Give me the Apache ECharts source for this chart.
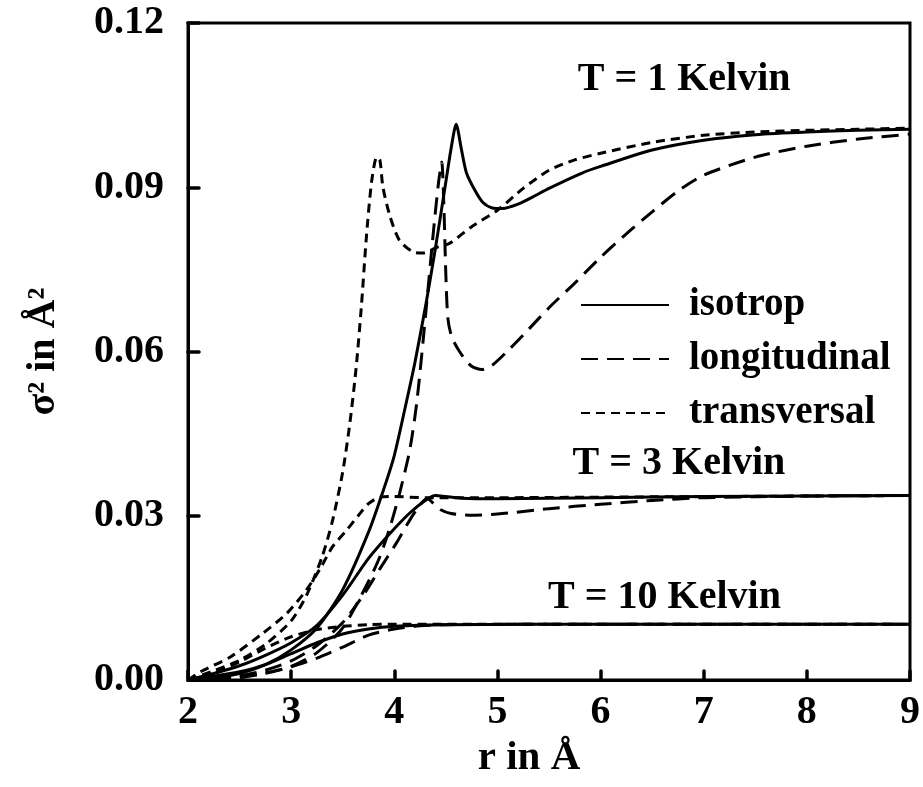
<!DOCTYPE html>
<html>
<head>
<meta charset="utf-8">
<script src="https://cdn.jsdelivr.net/npm/echarts@6/dist/echarts.min.js"></script>
<style>html,body{margin:0;padding:0;background:#fff}#c{width:923px;height:787px}</style>
</head>
<body>
<div id="c"></div>
<script>
// ---- data ([r in Å, sigma^2 in Å^2]) ----
const t1Iso = [[2.0,0],[2.25,0.0004],[2.5,0.0012],[2.75,0.0028],[3.0,0.0055],[3.25,0.0095],[3.5,0.0165],[3.75,0.027],[3.9,0.035],[4.0,0.041],[4.12,0.051],[4.2,0.058],[4.31,0.069],[4.4,0.079],[4.5,0.091],[4.55,0.097],[4.6,0.1015],[4.65,0.097],[4.7,0.0926],[4.78,0.0895],[4.86,0.0872],[4.95,0.0862],[5.05,0.0861],[5.2,0.0869],[5.34,0.0882],[5.5,0.0898],[5.82,0.0926],[6.0,0.0938],[6.5,0.0968],[7.0,0.0986],[7.5,0.0996],[8.0,0.1001],[8.5,0.1004],[9.0,0.1006]];
const t1Long = [[2.0,0],[2.25,0.0001],[2.5,0.0004],[2.75,0.0012],[3.0,0.0025],[3.25,0.005],[3.5,0.0095],[3.75,0.018],[3.86,0.0225],[3.96,0.028],[4.05,0.034],[4.15,0.042],[4.22,0.051],[4.3,0.066],[4.38,0.082],[4.43,0.091],[4.46,0.0946],[4.48,0.087],[4.5,0.074],[4.52,0.066],[4.56,0.0625],[4.65,0.0595],[4.75,0.0573],[4.85,0.0567],[4.95,0.0575],[5.12,0.0605],[5.3,0.064],[5.5,0.068],[5.75,0.0725],[6.0,0.0772],[6.25,0.0815],[6.5,0.0855],[6.75,0.0893],[7.0,0.0922],[7.5,0.0955],[8.0,0.0975],[8.5,0.0988],[9.0,0.0997]];
const t1Trans = [[2.0,0],[2.25,0.0017],[2.5,0.0036],[2.75,0.0065],[3.0,0.0108],[3.15,0.0155],[3.3,0.0225],[3.4,0.029],[3.5,0.038],[3.57,0.047],[3.63,0.057],[3.68,0.068],[3.73,0.081],[3.78,0.091],[3.83,0.0955],[3.86,0.095],[3.89,0.09],[3.96,0.0846],[4.05,0.0803],[4.18,0.0782],[4.28,0.078],[4.41,0.079],[4.54,0.0798],[4.75,0.0828],[5.0,0.0858],[5.25,0.0898],[5.5,0.0931],[5.75,0.095],[6.0,0.0962],[6.5,0.0982],[7.0,0.0995],[7.5,0.1001],[8.0,0.1004],[8.5,0.1006],[9.0,0.1008]];
const t3Iso = [[2.0,0],[2.25,0.0012],[2.5,0.0026],[2.75,0.0045],[3.0,0.0068],[3.25,0.0100],[3.5,0.0155],[3.75,0.0222],[3.96,0.0268],[4.15,0.0305],[4.3,0.0328],[4.4,0.0337],[4.5,0.0335],[4.65,0.0332],[5.0,0.0331],[6.0,0.0333],[7.0,0.0335],[8.0,0.0336],[9.0,0.0337]];
const t3Long = [[2.0,0],[2.5,0.0008],[2.75,0.0018],[3.0,0.0035],[3.25,0.0063],[3.5,0.0105],[3.7,0.0155],[3.86,0.0203],[4.02,0.025],[4.15,0.0292],[4.25,0.032],[4.32,0.0332],[4.38,0.0322],[4.45,0.0311],[4.55,0.0304],[4.73,0.0301],[5.0,0.0303],[5.5,0.0313],[6.0,0.0321],[6.5,0.0328],[7.0,0.0333],[8.0,0.0336],[9.0,0.0337]];
const t3Trans = [[2.0,0],[2.12,0.0015],[2.41,0.0042],[2.73,0.0086],[2.96,0.0122],[3.15,0.0165],[3.28,0.0203],[3.4,0.0243],[3.54,0.0274],[3.65,0.0300],[3.75,0.0322],[3.86,0.0334],[4.0,0.0335],[4.3,0.0333],[5.0,0.0333],[6.0,0.0334],[7.0,0.0335],[9.0,0.0337]];
const t10Iso = [[2.0,0],[2.25,0.0007],[2.5,0.0015],[2.75,0.0028],[3.0,0.0048],[3.25,0.0068],[3.5,0.0084],[3.75,0.0093],[4.0,0.0098],[4.5,0.0101],[6.0,0.0102],[9.0,0.0102]];
const t10Long = [[2.0,0],[2.5,0.0006],[2.75,0.0013],[3.0,0.0024],[3.25,0.0040],[3.5,0.0060],[3.75,0.0082],[4.0,0.0093],[4.25,0.0099],[4.5,0.0101],[6.0,0.0102],[9.0,0.0102]];
const t10Trans = [[2.0,0],[2.25,0.0013],[2.5,0.0033],[2.75,0.0058],[3.0,0.0079],[3.25,0.0092],[3.5,0.0098],[3.75,0.0101],[4.0,0.0102],[6.0,0.0102],[9.0,0.0102]];
const legendNames = ['isotrop','longitudinal','transversal'];
const xTicks = [2,3,4,5,6,7,8,9];
const yTicks = [0,0.03,0.06,0.09,0.12];
const annotations = [
  {text:'T = 1 Kelvin', r:6.81, v:0.1096},
  {text:'T = 3 Kelvin', r:6.76, v:0.0396},
  {text:'T = 10 Kelvin', r:6.62, v:0.0150}
];

// ---- styles ----
const FONT = '"Liberation Serif","Times New Roman",serif';
const dashes = {isotrop:'solid', longitudinal:[17,9], transversal:[9,6]};
function mk(name, data){
  return {name:name, type:'line', data:data, showSymbol:false, symbol:'none',
    smooth:0.25, animation:false,
    lineStyle:{color:'#000', width:3, type:dashes[name]},
    itemStyle:{color:'#000'}, z:3};
}
const series = [
  mk('isotrop',t1Iso), mk('longitudinal',t1Long), mk('transversal',t1Trans),
  mk('isotrop',t3Iso), mk('longitudinal',t3Long), mk('transversal',t3Trans),
  mk('isotrop',t10Iso), mk('longitudinal',t10Long), mk('transversal',t10Trans),
  {type:'scatter', symbolSize:0, silent:true, animation:false,
   itemStyle:{opacity:1, color:'#000'},
   data: annotations.map(a=>({value:[a.r,a.v], name:a.text})),
   label:{show:true, position:'inside', formatter:p=>p.name, opacity:1,
     fontFamily:FONT, fontWeight:'bold', fontSize:40, color:'#000'}}
];

const chart = echarts.init(document.getElementById('c'), null, {renderer:'canvas'});
chart.setOption({
  backgroundColor:'#fff',
  animation:false,
  grid:{left:188, right:12, top:23, bottom:107, show:true, borderColor:'#000', borderWidth:3, backgroundColor:'transparent'},
  legend:{
    data:legendNames, orient:'vertical', left:575, top:280,
    itemWidth:88, itemHeight:14, itemGap:14,
    itemStyle:{opacity:0},
    textStyle:{fontFamily:FONT, fontWeight:'bold', fontSize:39, color:'#000', padding:[0,0,0,15], lineHeight:40},
    selectedMode:false
  },
  xAxis:{
    type:'value', min:2, max:9, interval:1,
    name:'r in Å', nameLocation:'middle', nameGap:58,
    nameTextStyle:{fontFamily:FONT, fontWeight:'bold', fontSize:41, color:'#000', padding:[0,40,0,0]},
    axisLine:{lineStyle:{color:'#000', width:3}},
    axisTick:{inside:true, length:9, lineStyle:{color:'#000', width:3.5, cap:'round'}},
    axisLabel:{fontFamily:FONT, fontWeight:'bold', fontSize:40, color:'#000', margin:13,
      formatter:v=> xTicks.includes(v) ? String(v) : ''},
    splitLine:{show:false}
  },
  yAxis:{
    type:'value', min:0, max:0.12, interval:0.03,
    name:'σ² in Å²', nameLocation:'middle', nameGap:124, nameRotate:90,
    nameTextStyle:{fontFamily:FONT, fontWeight:'bold', fontSize:40, color:'#000'},
    axisLine:{lineStyle:{color:'#000', width:3}},
    axisTick:{inside:true, length:11, lineStyle:{color:'#000', width:3.5, cap:'round'}},
    axisLabel:{fontFamily:FONT, fontWeight:'bold', fontSize:40, color:'#000', margin:24,
      formatter:v=> yTicks.some(t=>Math.abs(t-v)<1e-9) ? v.toFixed(2) : ''},
    splitLine:{show:false}
  },
  series:series
});
</script>
</body>
</html>
